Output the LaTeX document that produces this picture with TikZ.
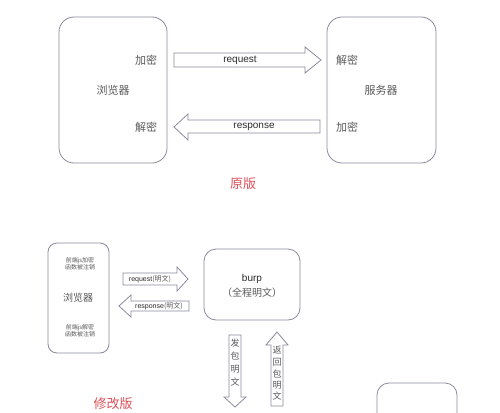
\documentclass[tikz,border=0pt]{standalone}
\usepackage{fontspec}
\setmainfont{Liberation Sans}
\newfontfamily\cjk{Noto Sans CJK SC}
\definecolor{bx}{HTML}{8A8A9E}
\definecolor{tx}{HTML}{5A5A5A}
\definecolor{dk}{HTML}{2A2A2A}
\definecolor{rd}{HTML}{E0505A}
\begin{document}
\begin{tikzpicture}[x=1pt,y=-1pt,
  box/.style={draw=bx,line width=0.8pt,rounded corners=15pt,inner sep=0},
  blk/.style={draw=bx,line width=0.8pt,fill=white,line join=miter},
  lab/.style={text=tx,font=\cjk\fontsize{11}{13}\selectfont,inner sep=0},
  sml/.style={text=tx,font=\cjk\fontsize{6}{7}\selectfont,inner sep=0,align=center},
  arl/.style={text=dk,inner sep=0},
  vt/.style={text=tx,font=\cjk\fontsize{9}{9}\selectfont,inner sep=0},
  red/.style={text=rd,font=\cjk\fontsize{13}{15}\selectfont,inner sep=0}]
\clip (0,0) rectangle (500,412);
\fill[white] (0,0) rectangle (500,412);
% ---------- top: original ----------
\node[box,minimum width=108pt,minimum height=146pt] (br) at (113,90) {};
\node[box,minimum width=109pt,minimum height=146pt] (sv) at (381.5,90) {};
\node[lab] (bEnc) at (146,60) {加密};
\node[lab] (bName) at (113,90) {浏览器};
\node[lab] (bDec) at (146,127) {解密};
\node[lab] (sDec) at (347,60) {解密};
\node[lab] (sName) at (381,90) {服务器};
\node[lab] (sEnc) at (347,127) {加密};
\draw[blk] (174,53) -- (305,53) -- (305,47) -- (321,60) -- (305,73) -- (305,67) -- (174,67) -- cycle;
\node[arl,font=\fontsize{10}{12}\selectfont] (req) at (240,60) {request};
\draw[blk] (320,120) -- (188,120) -- (188,114) -- (174,127) -- (188,140) -- (188,133) -- (320,133) -- cycle;
\node[arl,font=\fontsize{10}{12}\selectfont] (resp) at (254,127) {response};
\node[red] (orig) at (243,184) {原版};
% ---------- bottom: modified ----------
\node[box,rounded corners=9pt,minimum width=61pt,minimum height=110pt] (br2) at (78.5,298) {};
\node[sml] (enc2) at (80,264) {前端js加密\\函数被注销};
\node[lab,font=\cjk\fontsize{10}{12}\selectfont] (bName2) at (78,298) {浏览器};
\node[sml] (dec2) at (80,331) {前端js解密\\函数被注销};
\draw[blk] (123,273) -- (177,273) -- (177,267) -- (188,279) -- (177,291) -- (177,285) -- (123,285) -- cycle;
\node[arl,font=\fontsize{7}{8}\selectfont] (req2) at (150,279) {request{\cjk\color{tx}(明文)}};
\draw[blk] (189,301) -- (131,301) -- (131,295) -- (119,306) -- (131,317) -- (131,311) -- (189,311) -- cycle;
\node[arl,font=\fontsize{7}{8}\selectfont] (resp2) at (159,306) {response{\cjk\color{tx}(明文)}};
\node[box,rounded corners=12pt,minimum width=96pt,minimum height=71pt] (burp) at (252,284.5) {};
\node[arl,font=\fontsize{10}{12}\selectfont] (burpT) at (252,279) {burp};
\node[lab,font=\cjk\fontsize{10}{12}\selectfont] (burpS) at (252,293) {（全程明文）};
\draw[blk] (229,335) -- (241,335) -- (241,397) -- (246,397) -- (235,407) -- (224,397) -- (229,397) -- cycle;
\foreach \c [count=\i] in {发,包,明,文}
  \node[vt] (d\i) at (235,330+13*\i) {\c};
\draw[blk] (271,406) -- (283,406) -- (283,345) -- (288,345) -- (277,332) -- (266,345) -- (271,345) -- cycle;
\foreach \c [count=\i] in {返,回,包,明,文}
  \node[vt] (u\i) at (277,339+11.5*\i) {\c};
\draw[draw=bx,line width=0.8pt,rounded corners=12pt] (377,420) -- (377,383) -- (457,383) -- (457,420);
\node[red] (mod) at (113,404) {修改版};
\end{tikzpicture}
\end{document}
